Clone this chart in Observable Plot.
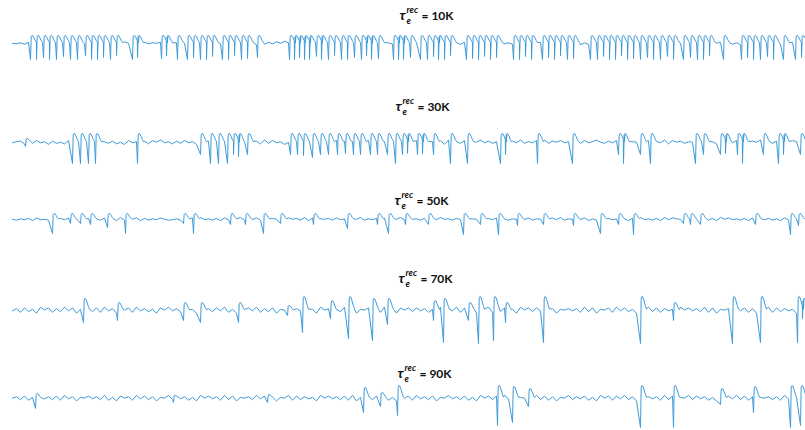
<!DOCTYPE html>
<html>
<head>
<meta charset="utf-8">
<script src="https://cdn.jsdelivr.net/npm/d3@7"></script>
<script src="https://cdn.jsdelivr.net/npm/@observablehq/plot@0.6"></script>
<style>
  html, body { margin: 0; padding: 0; background: #fff; }
  #chart { width: 805px; height: 430px; }
</style>
</head>
<body>
<div id="chart"></div>
<script>
// ---- data (time in samples, signal in px-equivalent units) ----
const labels = ["10K", "30K", "50K", "70K", "90K"];

// baseline noise, one digit per 4 samples (0..9, centred on 4.5)
const noise1 = "5463746352 4736251647 3524637485 2637465738 4625374859 3746253647 5263748596 3748562734 4635274836 5274638475 3645273849 4637285746 3524637485 6372846357 4826374956 3748526374 5263748536 4738265749 3627485637 4526374856";
const noise2 = "4672538461 7352846273 5846372518 4637285946 2738461957 3846275836 4729384615 6384729536 2847365948 3746285739 5827364819 4738265947 3658274936 4829375846 2738469537 4827365948 3649285736 5738462957 4836275948 3729486537";
const noise3 = "5364728453 6274835627 4738562934 5827364853 4637285946 3728465937 4836275948 5739284657 3846275936 4728365947 5637284956 3748265937 4829365748 3657284936 5748263957 4638275946 3729486537 5846372958 4637285947 3628475936";
const noise4 = "4728361958 2739481657 3829471658 2947361859 4738261957 3849261758 4927381659 3748261957 2839471658 4729361858 3847261957 4928371659 2738461958 3849271657 4729381658 2948361759 3827461958 4739281657 3948271659 2837461958";
const noise5 = "5738261947 3829471658 4739261857 2948371659 3847261958 4729381657 3948271659 2837461958 4738291657 3849261758 2947381659 4738261958 3829471657 4938271659 3748261958 2849371657 4729381659 3847261958 4938271657 3729481658";

// spikes: [time, trough depth, (peak height)]
const spikes1 = [[30,16],[36,16],[43,14],[49,16],[56,16],[63,13],[70,16],[77,16],[85,12],[91,16],[97,16],[103,14],[110,16],[116,12],[132,16],[137,14],[161,15],[166,12],[177,16],[187,16],[193,14],[200,16],[206,16],[212,13],[222,16],[228,16],[234,12],[241,16],[247,15],[257,14],[289,16],[294,16],[299,14],[304,16],[309,16],[316,13],[321,16],[328,16],[334,12],[341,16],[347,16],[354,14],[361,16],[366,12],[371,16],[378,15],[393,16],[398,16],[403,16],[410,14],[420,16],[427,16],[433,13],[438,16],[444,16],[450,12],[466,16],[472,15],[478,16],[484,13],[490,16],[496,14],[513,16],[519,16],[525,13],[531,16],[542,16],[548,14],[554,16],[560,12],[567,16],[573,15],[590,16],[597,16],[603,13],[609,16],[615,16],[621,12],[627,16],[633,15],[640,16],[647,14],[653,16],[660,16],[667,13],[673,16],[683,16],[690,14],[697,16],[703,16],[709,12],[723,16],[741,16],[747,14],[753,16],[760,16],[767,13],[773,16],[783,16],[795,16],[801,14]];
const spikes2 = [[25,4,4],[72,21],[80,21],[88,21],[95,21],[137,21],[200,12],[210,21],[218,21],[227,21],[233,12],[238,14],[247,12],[290,12],[297,12],[303,13],[312,15],[320,12],[328,12],[337,12],[345,11],[353,12],[360,12],[370,12],[377,12],[387,12],[395,21],[402,12],[407,11],[417,12],[422,11],[433,12],[450,21],[467,21],[500,21],[505,12],[537,21],[572,21],[618,12],[623,21],[640,12],[650,21],[695,21],[703,12],[720,12],[725,11],[737,12],[742,21],[763,12],[778,21],[783,12],[800,12]];
const spikes3 = [[52,14],[70,4],[80,4],[90,5],[107,8],[125,14],[183,4],[193,14],[230,5],[245,5],[263,14],[280,4],[313,5],[347,9],[377,5],[388,14],[405,5],[428,5],[463,15],[480,5],[498,15],[517,6],[543,5],[573,6],[600,14],[618,5],[633,15],[683,4],[690,5],[700,5],[755,5],[790,15],[798,6]];
const spikes4 = [[83,12,12],[117,10,8],[183,10,8],[200,12,8],[238,12,8],[287,5,5],[302,22,14],[330,8,10],[348,28,14],[372,30,12],[387,14,12],[433,10,10],[443,32,12],[468,10,8],[478,33,14],[493,30,14],[505,12,8],[543,32,14],[640,33,14],[673,10,8],[732,33,14],[760,32,14],[797,32,14],[802,8,12]];
const spikes5 = [[35,10,5],[173,4,3],[267,4,4],[363,14,11],[380,8,6],[397,17,13],[497,27,13],[512,24,12],[528,8,10],[640,29,13],[673,29,13],[720,6,10],[753,14,12],[790,29,13],[800,27,13]];

// ---- layout ----
const baselines = [43, 142, 219, 310, 398];
const noiseAmp = [0.5, 0.55, 0.45, 0.75, 0.7];
const peakDefault = [8, 9, 6, 12, 12];
const titleBase = [19, 110, 204, 282, 377];
const titleX = [399, 395, 394, 398, 397];
const T0 = 12, T1 = 805, STEP = 4;

function buildTrace(idx, noiseStr, spikes) {
  const digits = noiseStr.replace(/\s/g, "").split("").map(Number);
  const pts = [];
  digits.forEach((d, i) => {
    const t = T0 + i * STEP;
    if (t > T1) return;
    const inSpike = spikes.some(s => t > s[0] - 0.7 && t < s[0] + 6.5);
    if (!inSpike) pts.push({t, v: (d - 4.5) * noiseAmp[idx]});
  });
  spikes.forEach(s => {
    const [t, down] = s;
    const up = s.length > 2 ? s[2] : peakDefault[idx];
    pts.push({t, v: -down});
    pts.push({t: t + 0.7, v: up * 0.85});
    pts.push({t: t + 1.4, v: up});
    pts.push({t: t + 2.4, v: up * 0.95});
    pts.push({t: t + 3.5, v: up * 0.7});
    pts.push({t: t + 4.8, v: up * 0.35});
    pts.push({t: t + 6.0, v: up * 0.1});
  });
  return pts.filter(p => p.t <= T1).sort((a, b) => a.t - b.t)
    .map(p => ({trace: idx, t: p.t, y: baselines[idx] - p.v}));
}

const noises = [noise1, noise2, noise3, noise4, noise5];
const spikeSets = [spikes1, spikes2, spikes3, spikes4, spikes5];
const data = noises.flatMap((n, i) => buildTrace(i, n, spikeSets[i]));

const titles = labels.map((label, i) => ({label, x: titleX[i], y: titleBase[i]}));
const font = "Lato, 'Open Sans', sans-serif";

const chart = Plot.plot({
  width: 805,
  height: 430,
  marginLeft: 0, marginRight: 0, marginTop: 0, marginBottom: 0,
  x: {domain: [0, 805], range: [0, 805], axis: null},
  y: {domain: [0, 430], range: [0, 430], axis: null},
  style: {background: "#fff", fontFamily: font},
  marks: [
    Plot.line(data, {x: "t", y: "y", z: "trace", stroke: "#3d9ad8", strokeWidth: 1, curve: "linear"}),
    Plot.text(titles, {x: "x", y: "y", text: () => "τ", textAnchor: "start", lineAnchor: "bottom",
      fontSize: 14, fontStyle: "italic", fontWeight: "bold", fill: "#111", fontFamily: font}),
    Plot.text(titles, {x: "x", y: "y", text: () => "rec", dx: 7, dy: -7, textAnchor: "start", lineAnchor: "bottom",
      fontSize: 9, fontStyle: "italic", fontWeight: "bold", fill: "#111", fontFamily: font}),
    Plot.text(titles, {x: "x", y: "y", text: () => "e", dx: 7, dy: 4, textAnchor: "start", lineAnchor: "bottom",
      fontSize: 9, fontStyle: "italic", fontWeight: "bold", fill: "#111", fontFamily: font}),
    Plot.text(titles, {x: "x", y: "y", text: d => "= " + d.label, dx: 22, textAnchor: "start", lineAnchor: "bottom",
      fontSize: 12, fontWeight: "bold", fill: "#111", fontFamily: font})
  ]
});
document.getElementById("chart").appendChild(chart);
</script>
</body>
</html>
